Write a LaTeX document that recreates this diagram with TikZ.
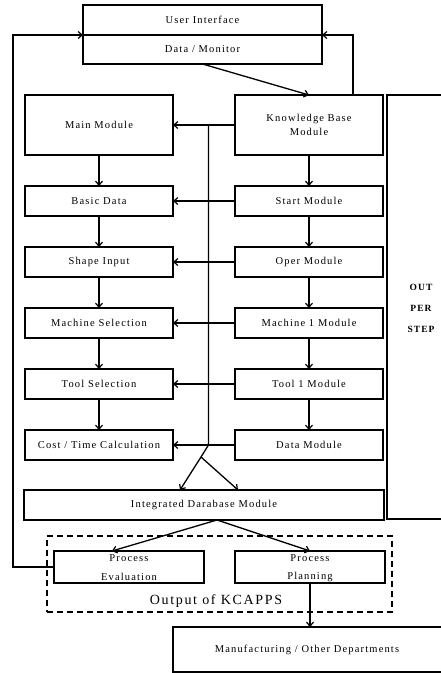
\documentclass[tikz,border=0pt]{standalone}
\usepackage{fontspec}
\setmainfont{Liberation Serif}[LetterSpace=11]
\usetikzlibrary{arrows.meta}
\begin{document}
\begin{tikzpicture}[x=1pt,y=-1pt,
  every node/.style={inner sep=0pt, outer sep=0pt},
  box/.style={draw, line width=1.3pt, font=\fontsize{10.5}{12}\selectfont, align=center},
  lbox/.style={box, minimum width=148pt},
  rbox/.style={box, minimum width=148pt},
  ln/.style={line width=1.3pt},
  arr/.style={line width=1.3pt, -{Straight Barb[length=4pt,width=7pt,line width=1.2pt]}},
  lbl/.style={font=\fontsize{10.5}{12}\selectfont}
]
\useasboundingbox (0,0) rectangle (441,673);
% user interface
\node[box, minimum width=239pt, minimum height=30pt] (ui1) at (202.5,20) {User Interface};
\node[box, minimum width=239pt, minimum height=29pt] (ui2) at (202.5,49.5) {Data / Monitor};
% main & KB
\node[lbox, minimum height=60pt] (mm) at (99,125) {Main Module};
\node[rbox, minimum height=60pt, text width=140pt] (kb) at (309,125) {Knowledge Base\\[2pt]Module};
% rows
\node[lbox, minimum height=30pt] (bd) at (99,201) {Basic Data};
\node[rbox, minimum height=30pt] (sm) at (309,201) {Start Module};
\node[lbox, minimum height=30pt] (si) at (99,262) {Shape Input};
\node[rbox, minimum height=30pt] (om) at (309,262) {Oper Module};
\node[lbox, minimum height=30pt] (ms) at (99,323) {Machine Selection};
\node[rbox, minimum height=30pt] (m1) at (309,323) {Machine 1 Module};
\node[lbox, minimum height=30pt] (ts) at (99,384) {Tool Selection};
\node[rbox, minimum height=30pt] (t1) at (309,384) {Tool 1 Module};
\node[lbox, minimum height=30pt] (ct) at (99,445) {Cost / Time Calculation};
\node[rbox, minimum height=30pt] (dm) at (309,445) {Data Module};
% integrated
\node[box, minimum width=360pt, minimum height=30pt] (idb) at (204,505) {Integrated Darabase Module};
% out per step frame
\draw[ln] (441,95) -- (387,95) -- (387,519) -- (441,519);
\node[font=\bfseries\fontsize{9.5}{10}\selectfont, align=center] (ops) at (421,308) {OUT\\[11pt]PER\\[11pt]STEP};
% output of KCAPPS
\node[draw, dashed, dash pattern=on 6pt off 4pt, line width=1.3pt, minimum width=345pt, minimum height=76pt] (out) at (219.5,574) {};
\node[box, minimum width=150pt, minimum height=32pt] (pe) at (129,567) {};
\node[lbl] (pe1) at (129,558) {Process};
\node[lbl] (pe2) at (129,577) {Evaluation};
\node[box, minimum width=150pt, minimum height=32pt] (pp) at (310,567) {};
\node[lbl] (pp1) at (310,558) {Process};
\node[lbl] (pp2) at (310,577) {Planning};
\node[font=\fontsize{14}{16}\selectfont\addfontfeature{LetterSpace=12}] (kc) at (216,601) {Output of KCAPPS};
% manufacturing
\draw[ln] (441,627) -- (173,627) -- (173,672) -- (441,672);
\node[lbl] (mf) at (307,649.5) {Manufacturing / Other Departments};
\coordinate (mft) at (310,627);
% connectors
\draw[arr] (ui2.south) -- (kb.north);
\coordinate (kbr) at (353,95);
\draw[arr] (kbr) |- (ui2.north east);
\coordinate (lft) at (13,567);
\draw[arr] (pe.west) -- (lft) |- (ui2.north west);
% vertical chains
\draw[arr] (mm.south) -- (bd.north);
\draw[arr] (bd.south) -- (si.north);
\draw[arr] (si.south) -- (ms.north);
\draw[arr] (ms.south) -- (ts.north);
\draw[arr] (ts.south) -- (ct.north);
\draw[arr] (kb.south) -- (sm.north);
\draw[arr] (sm.south) -- (om.north);
\draw[arr] (om.south) -- (m1.north);
\draw[arr] (m1.south) -- (t1.north);
\draw[arr] (t1.south) -- (dm.north);
% horizontal
\draw[arr] (kb.west) -- (mm.east);
\draw[arr] (sm.west) -- (bd.east);
\draw[arr] (om.west) -- (si.east);
\draw[arr] (m1.west) -- (ms.east);
\draw[arr] (t1.west) -- (ts.east);
\draw[arr] (dm.west) -- (ct.east);
% bus
\coordinate (b1) at (208.5,125);
\coordinate (b2) at (208.5,445);
\coordinate (b3) at (201,457);
\coordinate (ta) at (180,490);
\coordinate (tb) at (238,490);
\draw[ln] (b1) -- (b2) -- (b3);
\draw[arr] (b3) -- (ta);
\draw[arr] (b3) -- (tb);
% integrated to outputs
\coordinate (io) at (217,520);
\coordinate (pea) at (112,551);
\coordinate (ppa) at (310,551);
\draw[arr] (io) -- (pea);
\draw[arr] (io) -- (ppa);
\draw[arr] (pp.south) -- (mft);
\end{tikzpicture}
\end{document}
